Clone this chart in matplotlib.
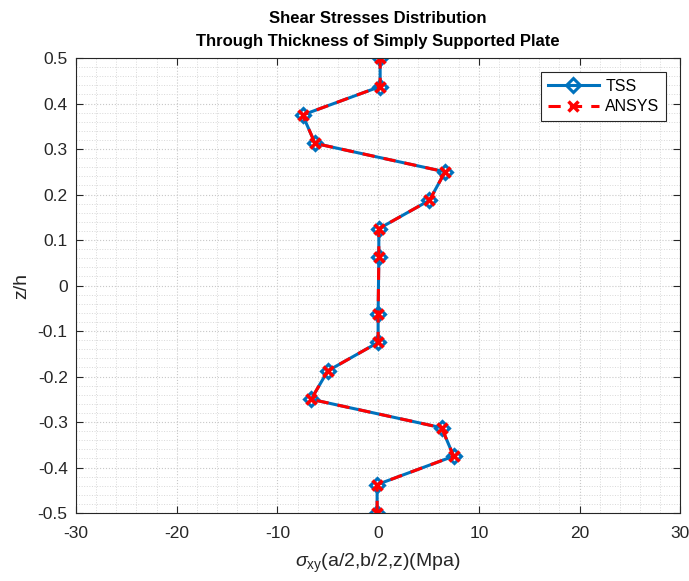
import matplotlib
matplotlib.use("Agg")
import matplotlib.pyplot as plt
from matplotlib.ticker import MultipleLocator
import numpy as np

plt.rcParams['font.family'] = ['Liberation Sans', 'DejaVu Sans']
plt.rcParams['mathtext.fontset'] = 'custom'
plt.rcParams['mathtext.rm'] = 'Liberation Sans'
plt.rcParams['mathtext.it'] = 'Liberation Sans:italic'
plt.rcParams['axes.unicode_minus'] = False

# through-thickness positions and shear stress values
z_h = [-0.5, -0.4375, -0.375, -0.3125, -0.25, -0.1875, -0.125, -0.0625,
       0.0625, 0.125, 0.1875, 0.25, 0.3125, 0.375, 0.4375, 0.5]
tss = [-0.1, -0.1, 7.5, 6.3, -6.65, -5.0, 0.0, 0.0,
       0.07, 0.07, 5.1, 6.65, -6.26, -7.5, 0.2, 0.2]
ansys = [-0.1, -0.1, 7.5, 6.3, -6.65, -5.0, 0.0, 0.0,
         0.07, 0.07, 5.1, 6.65, -6.26, -7.5, 0.2, 0.2]

fig = plt.figure(figsize=(6.89, 5.81), dpi=100)
ax = fig.add_axes([0.1103, 0.117, 0.877, 0.783])

ax.plot(tss, z_h, '-', color=(0, 0.447, 0.741), lw=2.2, marker='D',
        markersize=7.5, markerfacecolor='none', markeredgewidth=2.2, label='TSS')
ax.plot(ansys, z_h, '--', color='red', lw=2.2, marker='x',
        markersize=6.5, markeredgewidth=2.5, label='ANSYS', dashes=(4, 3))

ax.set_xlim(-30, 30)
ax.set_ylim(-0.5, 0.5)
ax.xaxis.set_major_locator(MultipleLocator(10))
ax.xaxis.set_minor_locator(MultipleLocator(2))
ax.yaxis.set_minor_locator(MultipleLocator(0.02))
ax.set_yticks(np.round(np.arange(-0.5, 0.51, 0.1), 2))
ax.set_yticklabels(['-0.5', '-0.4', '-0.3', '-0.2', '-0.1', '0',
                    '0.1', '0.2', '0.3', '0.4', '0.5'])

ax.grid(True, which='major', color='#c8c8c8', ls=':', lw=0.8)
ax.grid(True, which='minor', color='#d8d8d8', ls=':', lw=0.7)
ax.set_axisbelow(True)

ax.tick_params(which='major', direction='in', top=True, right=True,
               length=5, labelsize=12.5, colors='#262626')
ax.tick_params(axis='x', pad=9)
ax.tick_params(axis='y', pad=6)
ax.tick_params(which='minor', length=0)
for s in ax.spines.values():
    s.set_color('#262626')
    s.set_linewidth(0.8)

ax.set_title('Shear Stresses Distribution\nThrough Thickness of Simply Supported Plate',
             fontsize=12, fontweight='bold', pad=9, linespacing=1.65)
ax.set_xlabel(r'$\sigma_{\mathrm{xy}}$(a/2,b/2,z)(Mpa)', fontsize=14, color='#262626',
              labelpad=8)
ax.set_ylabel('z/h', fontsize=14, color='#262626', labelpad=5)

leg = ax.legend(loc='upper right', fontsize=11.5, fancybox=False, framealpha=1,
                edgecolor='#262626', borderaxespad=0.9, handlelength=3.2,
                handletextpad=0.4, borderpad=0.4, labelspacing=0.35)
leg.get_frame().set_linewidth(0.8)

fig.savefig('out.png', dpi=100)
